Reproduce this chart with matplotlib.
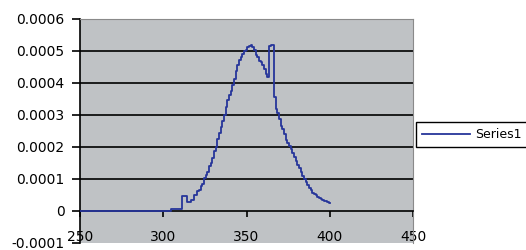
import numpy as np
import matplotlib.pyplot as plt

# spectrum-like curve
wavelength = [250, 300, 301, 302, 303, 304, 305, 306, 307, 308, 309, 310,
              311, 312, 313, 314, 315, 316, 317, 318, 319, 320,
              321, 322, 323, 324, 325, 326, 327, 328, 329, 330,
              331, 332, 333, 334, 335, 336, 337, 338, 339, 340,
              341, 342, 343, 344, 345, 346, 347, 348, 349, 350,
              351, 352, 353, 354, 355, 356, 357, 358, 359, 360,
              361, 362, 363, 364, 365, 366, 367, 368, 369, 370,
              371, 372, 373, 374, 375, 376, 377, 378, 379, 380,
              381, 382, 383, 384, 385, 386, 387, 388, 389, 390,
              391, 392, 393, 394, 395, 396, 397, 398, 399, 400]
series1 = [0, 0, 0, 0, 0, 0, 0.000006, 0.000006, 0.000006, 0.000006, 0.000006, 0.000006,
           0.000006, 0.000047, 0.000047, 0.000047, 0.000028, 0.000028, 0.000035, 0.000035, 0.00005, 0.00005,
           0.000063, 0.000066, 0.000079, 0.000085, 0.000104, 0.000113, 0.000123, 0.000142, 0.000151, 0.000167,
           0.000189, 0.000201, 0.000226, 0.000245, 0.000264, 0.00028, 0.000299, 0.000324, 0.000346, 0.000362,
           0.000374, 0.000393, 0.000412, 0.000437, 0.000456, 0.000472, 0.000481, 0.000491, 0.0005, 0.000503,
           0.000513, 0.000516, 0.000519, 0.000513, 0.000503, 0.000487, 0.000481, 0.000469, 0.000465, 0.000456,
           0.000443, 0.000428, 0.000418, 0.000516, 0.000519, 0.000519, 0.000355, 0.000318, 0.000305, 0.000286,
           0.000267, 0.000255, 0.000242, 0.000223, 0.000214, 0.000204, 0.000195, 0.000182, 0.00017, 0.000157,
           0.000145, 0.000135, 0.000123, 0.00011, 0.000101, 0.000091, 0.000082, 0.000072, 0.000066, 0.000057,
           0.000053, 0.00005, 0.000044, 0.000041, 0.000038, 0.000035, 0.000032, 0.00003, 0.000028, 0.000026]

xticks = [250, 300, 350, 400, 450]
yticks = [-0.0001, 0, 0.0001, 0.0002, 0.0003, 0.0004, 0.0005, 0.0006]
ytick_labels = ["-0.0001", "0", "0.0001", "0.0002", "0.0003", "0.0004", "0.0005", "0.0006"]

plt.rcParams['font.family'] = ['DejaVu Sans']

fig = plt.figure(figsize=(5.26, 2.5), dpi=100)
ax = fig.add_axes([80/526, 1 - 243/250, 333/526, 224/250])
ax.set_facecolor('#bfc2c5')

# black gridlines
for y in yticks[2:-1]:
    ax.axhline(y, color='black', lw=1.2, zorder=1)

ax.plot(wavelength, series1, color='#26359a', lw=1.3, drawstyle='steps-mid',
        label='Series1', zorder=3)

ax.set_xlim(250, 450)
ax.set_ylim(-0.0001, 0.0006)

ax.set_xticks(xticks)
ax.set_yticks(yticks)
ax.set_yticklabels(ytick_labels)

ax.spines['bottom'].set_position(('data', 0))
ax.spines['bottom'].set_color('black')
ax.spines['bottom'].set_linewidth(1.2)
ax.spines['left'].set_color('black')
ax.spines['left'].set_linewidth(1.2)
ax.spines['top'].set_color('#8a8a8a')
ax.spines['right'].set_color('#8a8a8a')

ax.tick_params(axis='x', direction='out', length=4, width=1.2, pad=10, labelsize=10)
ax.tick_params(axis='y', direction='out', length=6, width=1.2, pad=5, labelsize=10)

leg = ax.legend(loc='center left', bbox_to_anchor=(416/526, 1 - 134.5/250),
                bbox_transform=fig.transFigure, frameon=True, fancybox=False,
                fontsize=9, handlelength=3.9, handletextpad=0.35,
                borderpad=0.45, borderaxespad=0)
leg.get_frame().set_edgecolor('black')
leg.get_frame().set_linewidth(1.0)
leg.get_frame().set_facecolor('white')
leg.get_frame().set_alpha(1)

fig.savefig('out.png', dpi=100)
